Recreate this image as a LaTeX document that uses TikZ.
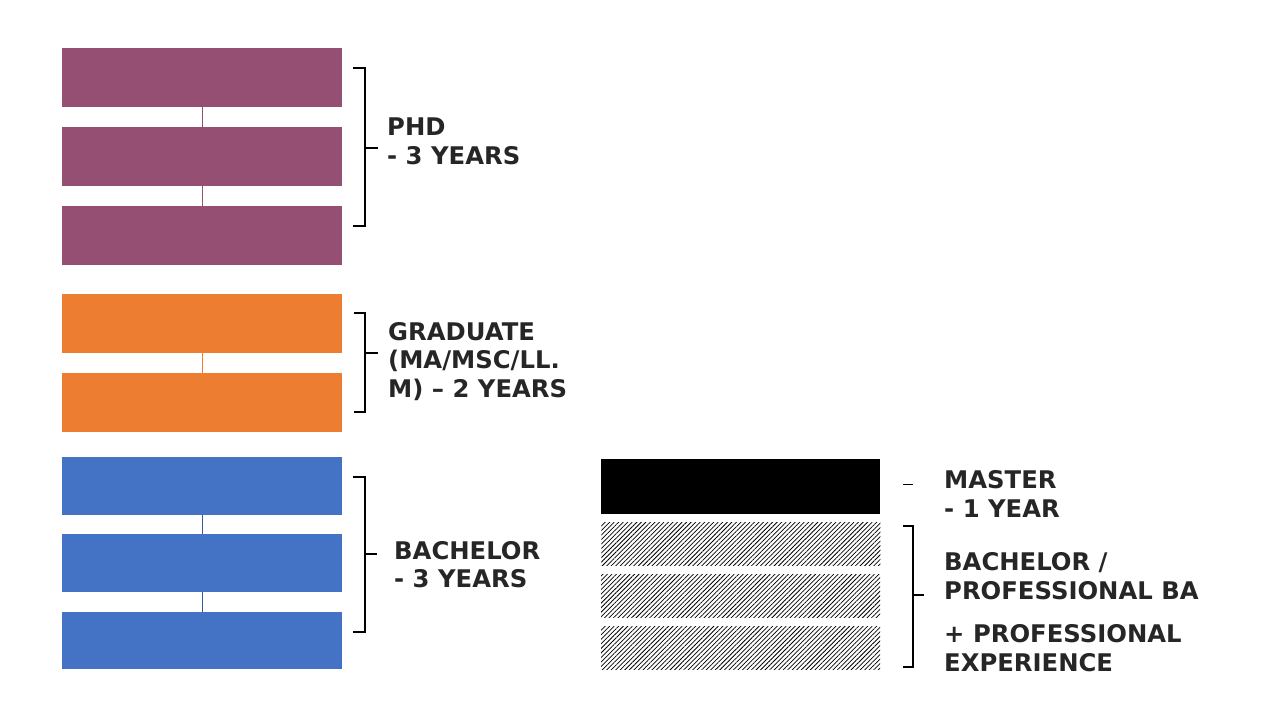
\documentclass[tikz,border=0pt]{standalone}
\usepackage{fontspec}
\setmainfont{DejaVu Sans}
\usetikzlibrary{patterns.meta}
\definecolor{phd}{HTML}{954F72}
\definecolor{grad}{HTML}{ED7D31}
\definecolor{bach}{HTML}{4472C4}
\definecolor{txt}{HTML}{262626}
\begin{document}
\begin{tikzpicture}[x=1pt,y=-1pt,
  blk/.style={draw=none,minimum width=280pt,anchor=north west,inner sep=0pt},
  lab/.style={anchor=west,align=left,inner sep=0pt,text=txt,
    font=\fontsize{24.3}{28.7}\selectfont\bfseries},
  brk/.style={line width=1.2pt,black},
  link/.style={line width=1pt}]
\useasboundingbox (0,0) rectangle (1280,720);
% left stacks
\node[blk,fill=phd,minimum height=59pt] (p1) at (62,48) {};
\node[blk,fill=phd,minimum height=59pt] (p2) at (62,127) {};
\node[blk,fill=phd,minimum height=59pt] (p3) at (62,206) {};
\node[blk,fill=grad,minimum height=59pt] (g1) at (62,294) {};
\node[blk,fill=grad,minimum height=59pt] (g2) at (62,373) {};
\node[blk,fill=bach,minimum height=58pt] (b1) at (62,457) {};
\node[blk,fill=bach,minimum height=58pt] (b2) at (62,534) {};
\node[blk,fill=bach,minimum height=57pt] (b3) at (62,612) {};
\draw[link,phd] (p1.south) -- (p2.north);
\draw[link,phd] (p2.south) -- (p3.north);
\draw[link,grad] (g1.south) -- (g2.north);
\draw[link,bach!80!black] (b1.south) -- (b2.north);
\draw[link,bach!80!black] (b2.south) -- (b3.north);
% right stack
\node[blk,fill=black,minimum width=279pt,minimum height=55pt] (m1) at (601,459) {};
\node[blk,minimum width=279pt,minimum height=43pt,pattern={Lines[angle=45,distance=3.2pt,line width=0.75pt]}] (h1) at (601,522) {};
\node[blk,minimum width=279pt,minimum height=43pt,pattern={Lines[angle=45,distance=3.2pt,line width=0.75pt]}] (h2) at (601,574) {};
\node[blk,minimum width=279pt,minimum height=43pt,pattern={Lines[angle=45,distance=3.2pt,line width=0.75pt]}] (h3) at (601,626) {};
% brackets
\coordinate (phdm) at (378,148);
\draw[brk] (353,68) -- (365,68) -- (365,226) -- (353,226);
\draw[brk] (365,148) -- (phdm);
\coordinate (gradm) at (378,353);
\draw[brk] (354,313) -- (365,313) -- (365,412) -- (354,412);
\draw[brk] (365,353) -- (gradm);
\coordinate (bachm) at (377,554);
\draw[brk] (353,477) -- (365,477) -- (365,632) -- (353,632);
\draw[brk] (365,554) -- (bachm);
\coordinate (mastl) at (903,484);
\coordinate (mastr) at (913,484);
\draw[line width=1pt] (mastl) -- (mastr);
\coordinate (profm) at (924,595);
\draw[line width=1.1pt] (903,526) -- (913,526) -- (913,667) -- (903,667);
\draw[line width=1.1pt] (913,595) -- (profm);
% labels
\node[lab] (tphd) at (387,141.5) {PHD\\- 3 YEARS};
\node[lab] (tgrad) at (388,361.5) {GRADUATE\\(MA/MSC/LL.\\M) – 2 YEARS};
\node[lab] (tbach) at (394,564.5) {BACHELOR\\- 3 YEARS};
\node[lab] (tmast) at (944,494) {MASTER\\- 1 YEAR};
\node[lab] (tprof) at (944,612) {BACHELOR /\\PROFESSIONAL BA\\[14.5pt]+ PROFESSIONAL\\EXPERIENCE};
\end{tikzpicture}
\end{document}
